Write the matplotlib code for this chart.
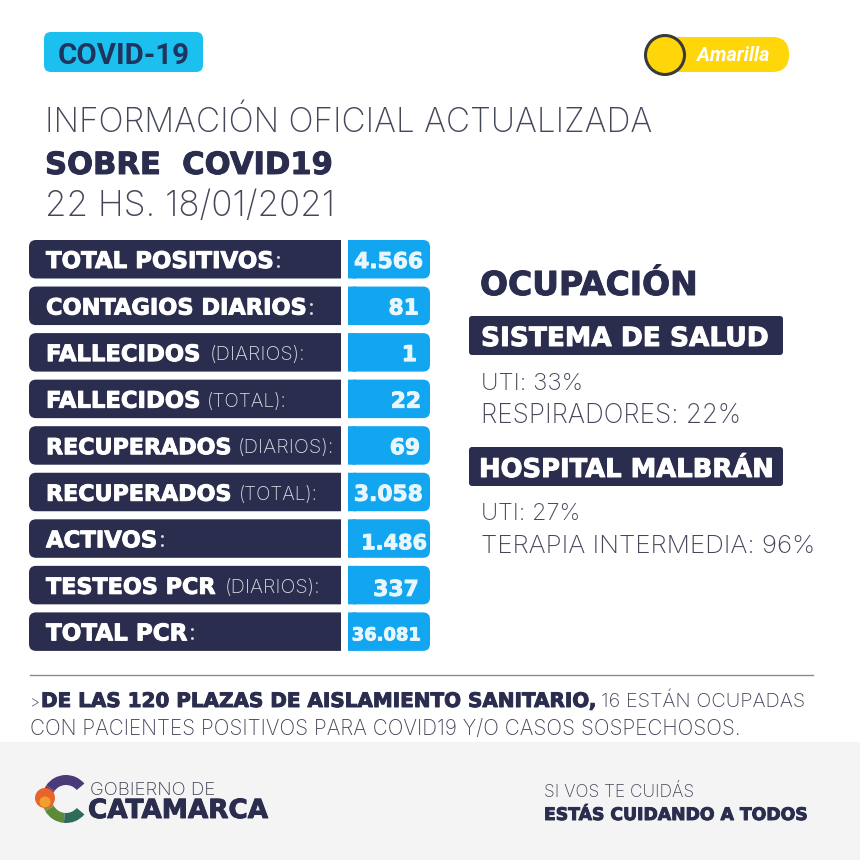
#!/usr/bin/env python
"""Covid report card, Catamarca 18/01/2021."""
import matplotlib
matplotlib.use("Agg")
import matplotlib.pyplot as plt
import matplotlib.patheffects as pe
from matplotlib.patches import FancyBboxPatch, Rectangle, Circle, Wedge

# data
label_bold = ["TOTAL POSITIVOS", "CONTAGIOS DIARIOS", "FALLECIDOS", "FALLECIDOS",
              "RECUPERADOS", "RECUPERADOS", "ACTIVOS", "TESTEOS PCR", "TOTAL PCR"]
label_light = [":", ":", "(DIARIOS):", "(TOTAL):", "(DIARIOS):", "(TOTAL):",
               ":", "(DIARIOS):", ":"]
values = ["4.566", "81", "1", "22", "69", "3.058", "1.486", "337", "36.081"]

# layout, in pixels of the 860x860 card
bold_end = [273, 306, 200, 200, 231, 231, 157, 215, 187]
light_start = [274, 307, 210, 207, 238, 239, 158, 225, 188]
light_end = [278, 312, 305, 287, 334, 318, 162, 320, 192]
value_end = [423, 419, 417, 421, 420, 423, 427, 419, 421]
value_size = [15.7, 15.7, 15.7, 15.7, 15.7, 15.7, 15, 15.7, 12.9]
value_shift = [0, 0, 0, 0, 0, 0, 2, 2, 0]

NAVY = "#2a2d4e"
BLUE = "#12a5f0"
GREY = "#44465a"
HEAVY = "DejaVu Sans"
LIGHT = "Inter"

fig = plt.figure(figsize=(8.6, 8.6), dpi=100)
ax = fig.add_axes([0, 0, 1, 1])
ax.set_xlim(0, 860)
ax.set_ylim(860, 0)
ax.axis("off")


def box(x0, y0, x1, y1, color, r=7, z=1):
    p = FancyBboxPatch((x0 + r, y0 + r), x1 - x0 - 2 * r, y1 - y0 - 2 * r,
                       boxstyle="round,pad=%d,rounding_size=%d" % (r, r),
                       fc=color, ec="none", zorder=z)
    p.set_snap(False)
    ax.add_patch(p)


def fatten(t, color, lw=0.7):
    t.set_path_effects([pe.withStroke(linewidth=lw, foreground=color)])


def fit(x0, x1, base, s, color=GREY, family=LIGHT, weight="light", style="normal", z=5):
    # the font size is set so the string runs from x0 to x1
    t = ax.text(x0, base, s, color=color, family=family, weight=weight, style=style,
                ha="left", va="baseline", fontsize=20, zorder=z)
    w = t.get_window_extent(fig.canvas.get_renderer()).width
    t.set_fontsize(20 * (x1 - x0) / w)
    if family == HEAVY:
        fatten(t, color)
    return t


# footer band
ax.add_patch(Rectangle((0, 742), 860, 118, fc="#f4f4f5", ec="none", zorder=0))

# header
box(44, 32, 203, 72, "#1cc0ee", r=7)
fit(58, 190, 64, "COVID-19", color="#1f3560", family="Roboto", weight="bold")
box(650, 37, 789, 72, "#ffd60a", r=17)
ax.add_patch(Circle((665, 55), 19.5, fc="#ffd60a", ec="#3a3a38", lw=2.2, zorder=3))
fit(697, 769, 61, "Amarilla", color="white", family="Roboto", weight="bold", style="italic")

fit(45, 652, 132, "INFORMACIÓN OFICIAL ACTUALIZADA")
fit(45, 332, 174, "SOBRE  COVID19", color=NAVY, family=HEAVY, weight="bold")
fit(45, 335, 216, "22 HS. 18/01/2021")

# table rows
for i in range(len(values)):
    top = 240 + i * 46.55
    bottom = top + 38.5
    base = top + 28
    box(29, top, 347, bottom, NAVY, r=7)
    white = Rectangle((341, top - 1), 7, 41, fc="white", ec="none", zorder=2)
    white.set_snap(False)
    ax.add_patch(white)
    box(348, top, 430, bottom, BLUE, r=7, z=3)
    square = Rectangle((348, top), 8, 38.5, fc=BLUE, ec="none", zorder=3)
    square.set_snap(False)
    ax.add_patch(square)
    fit(46, bold_end[i], base, label_bold[i], color="white", family=HEAVY, weight="bold")
    if label_light[i] == ":":
        ax.text(light_start[i], base, ":", color="#d8d9e0", family=LIGHT, fontsize=17, zorder=5)
    else:
        fit(light_start[i], light_end[i], base - 1, label_light[i], color="#d8d9e0")
    v = ax.text(value_end[i], base + value_shift[i], values[i], color="#e8f6fe", family=HEAVY,
                weight="bold", fontsize=value_size[i], ha="right", va="baseline", zorder=5)
    fatten(v, "#e8f6fe")

# right column
fit(480, 697, 295, "OCUPACIÓN", color=NAVY, family=HEAVY, weight="bold")
box(469, 316, 783, 355, NAVY, r=3)
fit(481, 768, 346, "SISTEMA DE SALUD", color="white", family=HEAVY, weight="bold")
fit(481, 583, 390, "UTI: 33%")
fit(481, 741, 423, "RESPIRADORES: 22%")
box(469, 447, 783, 486, NAVY, r=3)
fit(479, 773, 477, "HOSPITAL MALBRÁN", color="white", family=HEAVY, weight="bold")
fit(481, 580, 520, "UTI: 27%")
fit(481, 815, 553, "TERAPIA INTERMEDIA: 96%")

# note
ax.plot([30, 813], [675, 675], color="#8a8a8e", lw=1, zorder=1)
fit(30, 40, 707, ">")
fit(41, 595, 707, "DE LAS 120 PLAZAS DE AISLAMIENTO SANITARIO,", color=NAVY, family=HEAVY, weight="bold")
fit(601, 805, 707, "16 ESTÁN OCUPADAS")
fit(30, 740, 735, "CON PACIENTES POSITIVOS PARA COVID19 Y/O CASOS SOSPECHOSOS.")

# logo, the C is a few ring pieces with the sun on its left side
ring = [(-145, -40, "#4a3a78"), (-175, -145, "#7a3a6a"), (150, 175, "#a08a30"), (95, 150, "#5d8a3a"), (40, 95, "#2f6a5a")]
for a0, a1, col in ring:
    ax.add_patch(Wedge((66, 799), 24, a0, a1, width=10, fc=col, ec="none", zorder=2))
ax.add_patch(Circle((45, 798), 10, fc="#e8642a", ec="none", zorder=3))
ax.add_patch(Circle((45, 802), 5.5, fc="#f0a030", ec="none", zorder=4))
fit(90, 215, 795, "GOBIERNO DE", color="#3c3e50")
fit(88, 268, 818, "CATAMARCA", color=NAVY, family=HEAVY, weight="bold")
fit(544, 694, 797, "SI VOS TE CUIDÁS")
fit(544, 807, 820, "ESTÁS CUIDANDO A TODOS", color=NAVY, family=HEAVY, weight="bold")

fig.savefig("out.png", dpi=100)
